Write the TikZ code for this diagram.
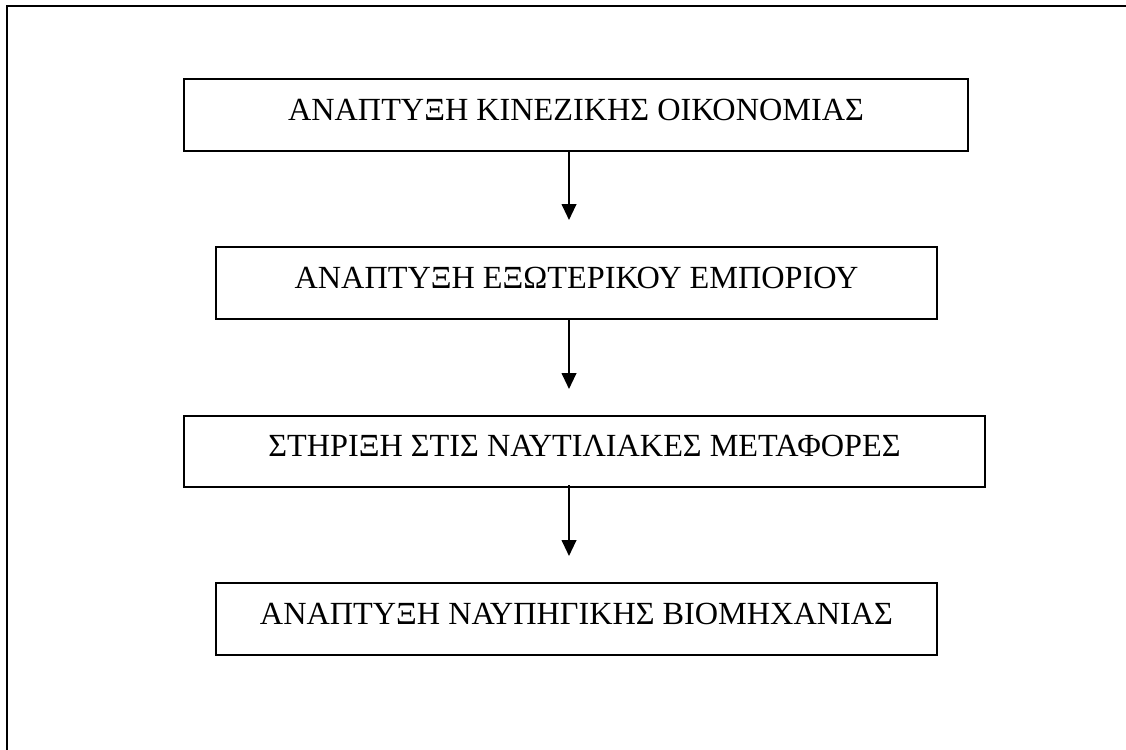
\documentclass[tikz,border=0pt]{standalone}
\usepackage{fontspec}
\setmainfont{Liberation Serif}
\usetikzlibrary{positioning, arrows.meta}
\tikzset{
  stage/.style={
    draw, line width=1.5pt,
    inner sep=0pt,
    minimum height=54pt,
    text height=15.9pt,
    text depth=8.4pt,
    font=\fontsize{24.2}{28}\selectfont
  },
  flow/.style={
    -{Triangle[length=12pt,width=11pt]},
    line width=1.5pt,
    shorten >=19.5pt
  },
  frame/.style={draw, line width=2.2pt}
}

\begin{document}
\begin{tikzpicture}[x=0.75pt, y=-0.75pt]
  \useasboundingbox (0,0) rectangle (1126,749);
  \clip (0,0) rectangle (1126,749);
  \draw[frame] (7,6) rectangle (1140,760);

  \node[stage, minimum width=588pt] (econ) at (576,115) {ΑΝΑΠΤΥΞΗ ΚΙΝΕΖΙΚΗΣ ΟΙΚΟΝΟΜΙΑΣ};
  \node[stage, minimum width=540.75pt] (trade) at (576.5,283) {ΑΝΑΠΤΥΞΗ ΕΞΩΤΕΡΙΚΟΥ ΕΜΠΟΡΙΟΥ};
  \node[stage, minimum width=600.75pt, minimum height=53.25pt] (ships) at (584.5,451.5) {ΣΤΗΡΙΞΗ ΣΤΙΣ ΝΑΥΤΙΛΙΑΚΕΣ ΜΕΤΑΦΟΡΕΣ};
  \node[stage, minimum width=540.75pt] (yards) at (576.5,619) {ΑΝΑΠΤΥΞΗ ΝΑΥΠΗΓΙΚΗΣ ΒΙΟΜΗΧΑΝΙΑΣ};

  \coordinate (ax) at (569,0);
  \draw[flow] (econ.south -| ax) -- (trade.north -| ax);
  \draw[flow] (trade.south -| ax) -- (ships.north -| ax);
  \draw[flow, shorten <=-2.25pt] (ships.south -| ax) -- (yards.north -| ax);
\end{tikzpicture}
\end{document}
